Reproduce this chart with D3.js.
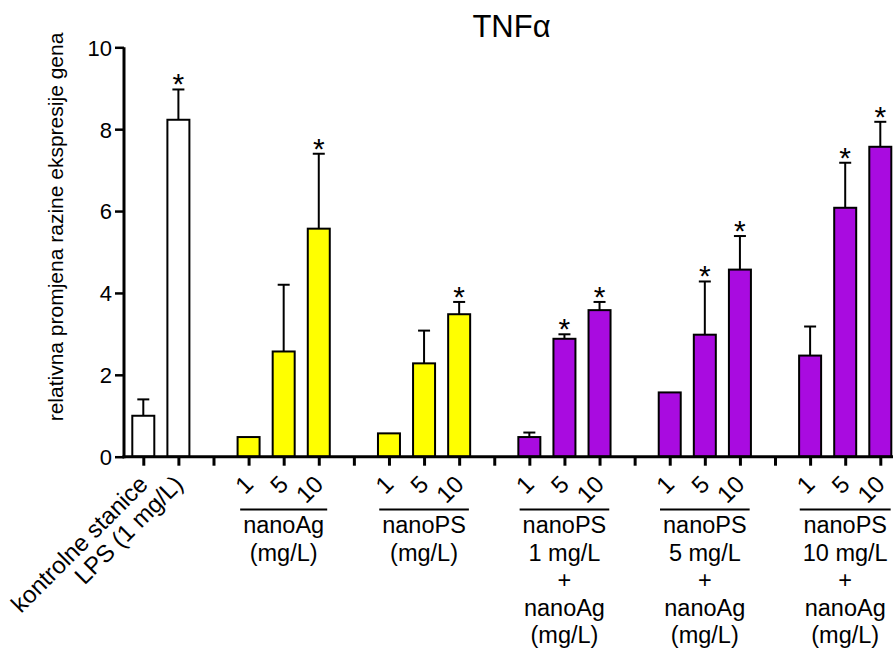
<!DOCTYPE html>
<html>
<head>
<meta charset="utf-8">
<script src="https://cdn.jsdelivr.net/npm/d3@7"></script>
<style>
  body { margin: 0; background: #fff; }
  svg { display: block; }
  text { font-family: "Liberation Sans", Arial, Helvetica, sans-serif; fill: #000; }
</style>
</head>
<body>
<svg id="chart" width="894" height="651"></svg>
<script>
// ---- data ----
const slotIds = ["ctrl","LPS","g1","Ag1","Ag5","Ag10","g2","PS1","PS5","PS10","g3",
                 "A1","A5","A10","g4","B1","B5","B10","g5","C1","C5","C10"];
const tickLabels = ["kontrolne stanice","LPS (1 mg/L)","","1","5","10","","1","5","10","",
                    "1","5","10","","1","5","10","","1","5","10"];
const means = [1.0, 8.23, null, 0.48, 2.57, 5.57, null, 0.57, 2.28, 3.48, null,
               0.48, 2.88, 3.58, null, 1.57, 2.98, 4.57, null, 2.47, 6.08, 7.57];
const errorTops = [1.4, 8.97, null, null, 4.2, 7.4, null, null, 3.08, 3.78, null,
                   0.59, 2.99, 3.78, null, null, 4.28, 5.39, null, 3.18, 7.18, 8.18];
const significant = [false, true, false, false, false, true, false, false, false, true, false,
                     false, true, true, false, false, true, true, false, false, true, true];
const colorKeys = ["control","control",null,"single","single","single",null,"single","single","single",null,
                   "combo","combo","combo",null,"combo","combo","combo",null,"combo","combo","combo"];
const colorMap = {control: "#ffffff", single: "#ffff00", combo: "#a90be0"};
const yTicks = [0, 2, 4, 6, 8, 10];
const groupMid   = ["Ag5","PS5","A5","B5","C5"];
const groupLines = [
  ["nanoAg","(mg/L)"],
  ["nanoPS","(mg/L)"],
  ["nanoPS","1 mg/L","+","nanoAg","(mg/L)"],
  ["nanoPS","5 mg/L","+","nanoAg","(mg/L)"],
  ["nanoPS","10 mg/L","+","nanoAg","(mg/L)"]
];
const title = "TNFα";
const yLabel = "relativna promjena razine ekspresije gena";

// ---- chart ----
const svg = d3.select("#chart");
const x = d3.scalePoint().domain(slotIds).range([143.3, 880.3]);
const y = d3.scaleLinear().domain([0, 10]).range([456.7, 47.3]);
const barW = 22;

const rows = slotIds.map((id, i) => ({id, label: tickLabels[i], mean: means[i], top: errorTops[i],
  sig: significant[i], color: colorKeys[i] ? colorMap[colorKeys[i]] : null}));
const barRows = rows.filter(d => d.mean !== null);

// title
svg.append("text").attr("x", 511.5).attr("y", 37).attr("text-anchor", "middle")
  .style("font-size", "31px").text(title);

// y label
svg.append("text")
  .attr("transform", `translate(63,227) rotate(-90)`)
  .attr("text-anchor", "middle").style("font-size", "21px").text(yLabel);

// error bars (upward)
const eb = svg.append("g").attr("stroke", "#000").attr("stroke-width", 2);
barRows.filter(d => d.top !== null).forEach(d => {
  eb.append("line").attr("x1", x(d.id)).attr("x2", x(d.id)).attr("y1", y(d.mean)).attr("y2", y(d.top));
  eb.append("line").attr("x1", x(d.id) - 6).attr("x2", x(d.id) + 6).attr("y1", y(d.top)).attr("y2", y(d.top));
});

// bars
svg.append("g").selectAll("rect").data(barRows).join("rect")
  .attr("x", d => x(d.id) - barW / 2)
  .attr("y", d => y(d.mean))
  .attr("width", barW)
  .attr("height", d => y(0) - y(d.mean))
  .attr("fill", d => d.color)
  .attr("stroke", "#000").attr("stroke-width", 2);

// stars
svg.append("g").selectAll("text").data(barRows.filter(d => d.sig)).join("text")
  .attr("x", d => x(d.id)).attr("y", d => y(d.top !== null ? d.top : d.mean) + 5)
  .attr("text-anchor", "middle").style("font-size", "30px").text("*");

// y axis
const yAxis = svg.append("g").attr("transform", "translate(124,0)")
  .call(d3.axisLeft(y).tickValues(yTicks).tickSize(9).tickPadding(3).tickFormat(d3.format("d")));
yAxis.select(".domain").remove();
yAxis.selectAll(".tick line").attr("stroke", "#000").attr("stroke-width", 2.5);
yAxis.selectAll(".tick text").style("font-size", "22px")
  .style("font-family", "Liberation Sans, Arial, sans-serif").attr("dy", "0.36em");
svg.append("line").attr("x1", 124).attr("x2", 124).attr("y1", y(10)).attr("y2", y(0) + 1.5)
  .attr("stroke", "#000").attr("stroke-width", 3);

// x axis
const xAxis = svg.append("g").attr("transform", `translate(0,${y(0)})`)
  .call(d3.axisBottom(x).tickSize(9).tickFormat(""));
xAxis.select(".domain").remove();
xAxis.selectAll(".tick line").attr("stroke", "#000").attr("stroke-width", 3);
svg.append("line").attr("x1", 122.5).attr("x2", 893).attr("y1", y(0)).attr("y2", y(0))
  .attr("stroke", "#000").attr("stroke-width", 3);

// rotated tick labels
svg.append("g").selectAll("text").data(rows.filter(d => d.label)).join("text")
  .attr("transform", d => `translate(${x(d.id) + 6},${y(0) + 29}) rotate(-45)`)
  .attr("text-anchor", "end")
  .style("font-size", "24px")
  .text(d => d.label);

// group labels
const gl = svg.append("g");
groupLines.forEach((lines, i) => {
  const cx = x(groupMid[i]);
  const g = gl.append("g");
  const texts = g.selectAll("text").data(lines).join("text")
    .attr("x", cx).attr("y", (d, j) => 533 + j * 27.6)
    .attr("text-anchor", "middle").style("font-size", "23.5px").text(d => d);
  let w = 0;
  texts.each(function() { w = Math.max(w, this.getComputedTextLength()); });
  w += 6;
  g.append("line").attr("x1", cx - w / 2).attr("x2", cx + w / 2).attr("y1", 509.5).attr("y2", 509.5)
    .attr("stroke", "#000").attr("stroke-width", 1.8);
});
</script>
</body>
</html>
